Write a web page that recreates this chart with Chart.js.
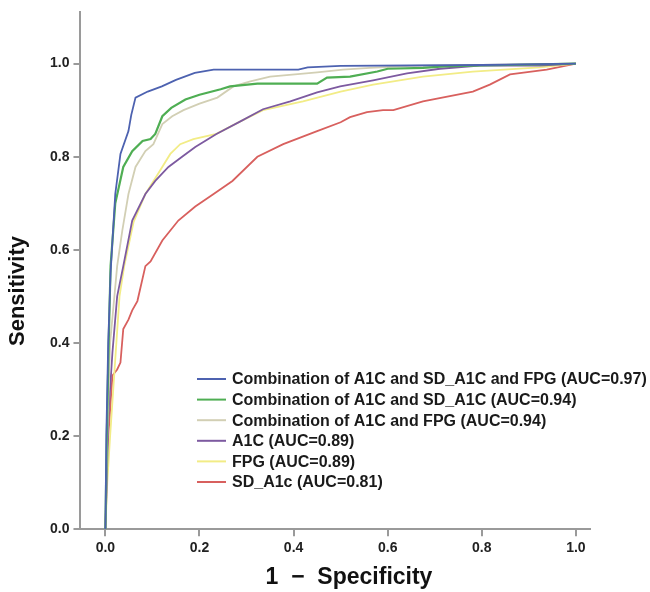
<!DOCTYPE html>
<html>
<head>
<meta charset="utf-8">
<script src="https://cdn.jsdelivr.net/npm/chart.js@4"></script>
<style>
  html, body { margin: 0; padding: 0; background: #fff; }
  #wrap { width: 650px; height: 592px; position: relative; }
</style>
</head>
<body>
<div id="wrap"><canvas id="roc"></canvas></div>
<script>
// ROC curves: [1 - specificity, sensitivity]
const seriesNames = [
  'Combination of A1C and SD_A1C and FPG (AUC=0.97)',
  'Combination of A1C and SD_A1C (AUC=0.94)',
  'Combination of A1C and FPG (AUC=0.94)',
  'A1C (AUC=0.89)',
  'FPG (AUC=0.89)',
  'SD_A1c (AUC=0.81)'
];
const seriesColors = ['#4d62b0', '#4fae53', '#d2cfb4', '#7d5aa0', '#f2ec86', '#d8605e'];

const rocAll = [
  [0,0],[0.002,0.2],[0.006,0.4],[0.011,0.55],[0.015,0.62],[0.021,0.72],[0.032,0.806],
  [0.049,0.855],[0.055,0.89],[0.064,0.927],[0.09,0.94],[0.12,0.951],[0.15,0.965],
  [0.19,0.98],[0.23,0.987],[0.41,0.987],[0.43,0.992],[0.5,0.995],[0.8,0.997],[1,1]
];
const rocA1cSd = [
  [0,0],[0.003,0.2],[0.007,0.4],[0.011,0.565],[0.021,0.70],[0.038,0.778],[0.057,0.812],
  [0.079,0.834],[0.096,0.838],[0.106,0.849],[0.121,0.887],[0.14,0.905],[0.17,0.923],
  [0.2,0.933],[0.245,0.945],[0.265,0.951],[0.323,0.957],[0.45,0.957],[0.471,0.970],
  [0.52,0.972],[0.578,0.983],[0.6,0.989],[0.675,0.991],[0.72,0.994],[0.8,0.996],[1,1]
];
const rocA1cFpg = [
  [0,0],[0.004,0.2],[0.01,0.4],[0.025,0.565],[0.036,0.642],[0.049,0.72],[0.064,0.778],
  [0.085,0.812],[0.102,0.827],[0.121,0.87],[0.142,0.887],[0.166,0.9],[0.2,0.914],
  [0.238,0.927],[0.272,0.951],[0.308,0.962],[0.35,0.972],[0.45,0.981],[0.505,0.987],
  [0.562,0.991],[0.65,0.995],[0.8,0.997],[1,1]
];
const rocA1c = [
  [0,0],[0.003,0.1],[0.006,0.24],[0.015,0.38],[0.025,0.5],[0.038,0.565],[0.057,0.663],
  [0.085,0.72],[0.106,0.748],[0.134,0.778],[0.163,0.80],[0.191,0.821],[0.236,0.849],
  [0.287,0.876],[0.335,0.902],[0.393,0.919],[0.45,0.938],[0.499,0.951],[0.569,0.964],
  [0.641,0.979],[0.711,0.989],[0.802,0.996],[0.923,0.996],[1,1]
];
const rocFpg = [
  [0,0],[0.004,0.1],[0.01,0.2],[0.02,0.35],[0.03,0.5],[0.04,0.565],[0.06,0.66],
  [0.085,0.72],[0.11,0.76],[0.138,0.806],[0.159,0.827],[0.187,0.838],[0.236,0.849],
  [0.287,0.876],[0.335,0.9],[0.42,0.919],[0.5,0.94],[0.569,0.955],[0.675,0.972],
  [0.781,0.983],[0.923,0.992],[1,1]
];
const rocSd = [
  [0,0],[0.004,0.166],[0.011,0.27],[0.015,0.33],[0.025,0.343],[0.032,0.358],[0.038,0.43],
  [0.049,0.45],[0.057,0.47],[0.068,0.49],[0.085,0.565],[0.096,0.575],[0.121,0.62],
  [0.155,0.663],[0.191,0.693],[0.23,0.72],[0.27,0.748],[0.323,0.80],[0.378,0.827],
  [0.45,0.855],[0.5,0.874],[0.52,0.885],[0.556,0.896],[0.59,0.90],[0.612,0.90],
  [0.675,0.919],[0.781,0.94],[0.817,0.955],[0.86,0.977],[0.938,0.987],[1,1]
];
const seriesData = [rocAll, rocA1cSd, rocA1cFpg, rocA1c, rocFpg, rocSd];

const xTicks = [0, 0.2, 0.4, 0.6, 0.8, 1.0];
const yTicks = [0, 0.2, 0.4, 0.6, 0.8, 1.0];
const xTitle = '1  \u2212  Specificity';
const yTitle = 'Sensitivity';

const FONT = '"Liberation Sans", Arial, sans-serif';
const axisGray = '#9a9a9a';

// legend inside the plot + axis titles, placed like the original figure
const figureText = {
  id: 'figureText',
  afterDraw(chart) {
    const ctx = chart.ctx;
    ctx.save();
    ctx.font = 'bold 16px ' + FONT;
    ctx.textBaseline = 'middle';
    chart.data.datasets.forEach((ds, i) => {
      const y = 379 + i * 20.6;
      ctx.strokeStyle = ds.borderColor;
      ctx.lineWidth = 2;
      ctx.beginPath();
      ctx.moveTo(197, y);
      ctx.lineTo(226, y);
      ctx.stroke();
      ctx.fillStyle = '#1a1a1a';
      ctx.fillText(ds.label, 232, y + 1);
    });

    ctx.fillStyle = '#111';
    ctx.font = 'bold 23px ' + FONT;
    ctx.textAlign = 'center';
    ctx.fillText(xTitle, 349, 578);

    ctx.font = 'bold 22px ' + FONT;
    ctx.translate(18, 291);
    ctx.rotate(-Math.PI / 2);
    ctx.fillText(yTitle, 0, 0);
    ctx.restore();
  }
};

const ctx = document.getElementById('roc').getContext('2d');
new Chart(ctx, {
  type: 'scatter',
  data: {
    datasets: seriesData.map((pts, i) => ({
      label: seriesNames[i],
      data: pts.map(p => ({ x: p[0], y: p[1] })),
      showLine: true,
      borderColor: seriesColors[i],
      backgroundColor: seriesColors[i],
      borderWidth: i === 1 ? 2.2 : 1.8,
      pointRadius: 0,
      tension: 0
    }))
  },
  options: {
    responsive: true,
    maintainAspectRatio: false,
    animation: false,
    layout: { padding: { left: 46, right: 60, top: 3, bottom: 31 } },
    plugins: {
      legend: { display: false },
      tooltip: { enabled: false }
    },
    scales: {
      x: {
        type: 'linear',
        min: -0.053,
        max: 1.03,
        afterBuildTicks: s => { s.ticks = xTicks.map(v => ({ value: v })); },
        border: { color: axisGray, width: 2 },
        grid: { drawOnChartArea: false, drawTicks: true, tickLength: 7, color: axisGray, lineWidth: 2 },
        ticks: {
          color: '#222',
          font: { family: FONT, size: 14, weight: 'bold' },
          padding: 4,
          maxRotation: 0,
          callback: v => v.toFixed(1)
        }
      },
      y: {
        type: 'linear',
        min: 0,
        max: 1.11,
        afterBuildTicks: s => { s.ticks = yTicks.map(v => ({ value: v })); },
        border: { color: axisGray, width: 2 },
        grid: { drawOnChartArea: false, drawTicks: true, tickLength: 7, color: axisGray, lineWidth: 2 },
        ticks: {
          color: '#222',
          font: { family: FONT, size: 14, weight: 'bold' },
          padding: 4,
          callback: v => v.toFixed(1)
        }
      }
    }
  },
  plugins: [figureText]
});
</script>
</body>
</html>
